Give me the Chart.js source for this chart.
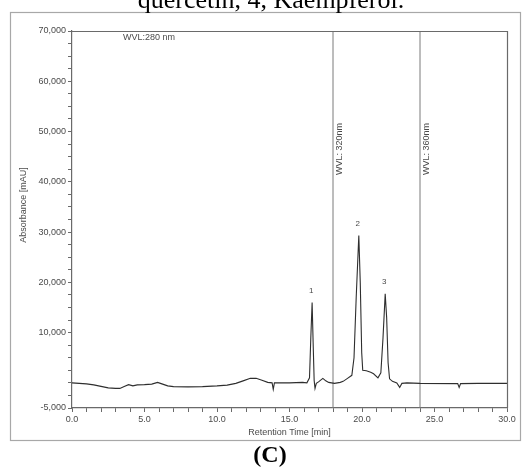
<!DOCTYPE html>
<html>
<head>
<meta charset="utf-8">
<script src="https://cdn.jsdelivr.net/npm/chart.js@4.4.1/dist/chart.umd.min.js"></script>
<style>
  html, body { margin: 0; padding: 0; background: #fff; }
  #wrap { width: 526px; height: 470px; position: relative; }
</style>
</head>
<body>
<div id="wrap"><canvas id="chart"></canvas></div>
<script>
'use strict';

/* ── Chromatogram trace (min → mAU) ─────────────────────────────── */
const retentionTime = [
  0.0, 0.5, 1.0, 1.5, 2.0, 2.5, 3.0, 3.3, 3.6, 3.9, 4.2, 4.5, 5.0, 5.5, 5.9,
  6.2, 6.6, 7.0, 8.0, 9.0, 10.0, 10.7, 11.3, 11.8, 12.3, 12.7, 13.1, 13.5,
  13.8, 13.88, 13.96, 14.5, 15.0, 15.9, 16.2, 16.38, 16.47, 16.56, 16.63,
  16.7, 16.76, 16.85, 17.0, 17.3, 17.5, 17.7, 18.1, 18.5, 18.7, 19.0, 19.3,
  19.45, 19.6, 19.78, 19.88, 19.98, 20.05, 20.3, 20.6, 20.8, 21.1, 21.3,
  21.45, 21.6, 21.7, 21.8, 21.9, 22.1, 22.4, 22.6, 22.75, 23.1, 24.0, 26.6,
  26.7, 26.8, 28.0, 30.0
];
const absorbance = [
  0, -100, -200, -400, -700, -1000, -1100, -1100, -700, -350, -600, -400,
  -350, -250, 100, -200, -600, -750, -800, -750, -600, -450, -100, 400, 900,
  900, 500, 100, 0, -1300, 0, 0, 0, 100, 0, 1000, 9000, 16000, 8000, 500,
  -1100, -100, 200, 900, 400, 100, -100, 100, 300, 900, 1500, 5000, 17000,
  29300, 20000, 6000, 2500, 2400, 2100, 1800, 1000, 2000, 9000, 17700, 13000,
  4000, 800, 300, 0, -900, -100, 0, -100, -150, -900, -150, -100, -100
];

/* ── Detector wavelength switches ───────────────────────────────── */
const wvlSwitchTimes  = [18.0, 24.0];
const wvlSwitchLabels = ['WVL: 320nm', 'WVL: 360nm'];

/* ── Peak annotations ───────────────────────────────────────────── */
const peakTimes   = [16.56, 19.78, 21.6];
const peakHeights = [16000, 29300, 17700];
const peakLabels  = ['1', '2', '3'];

/* ── Axis ticks ─────────────────────────────────────────────────── */
const xTicks = [0, 1, 2, 3, 4, 5, 6, 7, 8, 9, 10, 11, 12, 13, 14, 15, 16, 17,
  18, 19, 20, 21, 22, 23, 24, 25, 26, 27, 28, 29, 30];
const yTicks = [-5000, -2500, 0, 2500, 5000, 7500, 10000, 12500, 15000, 17500,
  20000, 22500, 25000, 27500, 30000, 32500, 35000, 37500, 40000, 42500, 45000,
  47500, 50000, 52500, 55000, 57500, 60000, 62500, 65000, 67500, 70000];

const C = {
  trace: '#2e2e2e',
  axis:  '#6a6a6a',
  frame: '#a8a8a8',
  text:  '#4a4a4a',
  sans:  '"Liberation Sans", Arial, sans-serif',
  serif: '"Liberation Serif", "Times New Roman", serif',
};

function withCommas(v) {
  return String(v).replace(/\B(?=(\d{3})+(?!\d))/g, ',');
}

/* ── Frame, box and text overlays ───────────────────────────────── */
const overlay = {
  id: 'overlay',
  beforeDraw(chart) {
    const { ctx } = chart;
    ctx.save();
    ctx.fillStyle = '#fff';
    ctx.fillRect(0, 0, chart.width, chart.height);
    ctx.strokeStyle = C.frame;
    ctx.lineWidth = 1.2;
    ctx.strokeRect(10.5, 12.5, 510, 428);
    ctx.restore();
  },
  afterDraw(chart) {
    const { ctx, chartArea: a, scales: { x, y } } = chart;
    ctx.save();

    // top and right sides of the plot box
    ctx.strokeStyle = C.axis;
    ctx.lineWidth = 1.2;
    ctx.beginPath();
    ctx.moveTo(a.left, a.top + 0.5);
    ctx.lineTo(a.right + 0.5, a.top + 0.5);
    ctx.lineTo(a.right + 0.5, a.bottom);
    ctx.stroke();

    ctx.fillStyle = C.text;
    ctx.font = `9px ${C.sans}`;
    ctx.textBaseline = 'middle';
    ctx.textAlign = 'left';
    ctx.fillText('WVL:280 nm', 123, 38);

    // rotated wavelength labels beside the switch lines
    wvlSwitchTimes.forEach((t, i) => {
      ctx.save();
      ctx.translate(x.getPixelForValue(t) + 7, 149);
      ctx.rotate(-Math.PI / 2);
      ctx.textAlign = 'center';
      ctx.fillText(wvlSwitchLabels[i], 0, 0);
      ctx.restore();
    });

    // peak numbers
    ctx.font = `8px ${C.sans}`;
    ctx.textAlign = 'center';
    peakTimes.forEach((t, i) => {
      ctx.fillText(peakLabels[i], x.getPixelForValue(t) - 1, y.getPixelForValue(peakHeights[i]) - 12);
    });

    // y axis title
    ctx.font = `9px ${C.sans}`;
    ctx.save();
    ctx.translate(24, 205);
    ctx.rotate(-Math.PI / 2);
    ctx.fillText('Absorbance [mAU]', 0, 0);
    ctx.restore();

    // figure text cut at the top and panel caption
    ctx.fillStyle = '#000';
    ctx.textBaseline = 'alphabetic';
    ctx.font = `26px ${C.serif}`;
    ctx.fillText('quercetin, 4, Kaempferol.', 271, 8);
    ctx.font = `bold 24px ${C.serif}`;
    ctx.fillText('(C)', 270, 462);

    ctx.restore();
  },
};

const tickFont = { family: C.sans, size: 9 };

new Chart(document.getElementById('chart'), {
  type: 'line',
  data: {
    datasets: [
      {
        label: 'trace',
        data: retentionTime.map((t, i) => ({ x: t, y: absorbance[i] })),
        borderColor: C.trace,
        borderWidth: 1.1,
        pointRadius: 0,
        tension: 0,
      },
      ...wvlSwitchTimes.map(t => ({
        label: 'switch',
        data: [{ x: t, y: -5000 }, { x: t, y: 70000 }],
        borderColor: '#7a7a7a',
        borderWidth: 1,
        pointRadius: 0,
      })),
    ],
  },
  options: {
    responsive: true,
    maintainAspectRatio: false,
    animation: false,
    layout: { padding: { left: 0, top: 31, right: 19, bottom: 30 } },
    plugins: {
      legend: { display: false },
      tooltip: { enabled: false },
    },
    scales: {
      x: {
        type: 'linear',
        min: 0,
        max: 30,
        afterBuildTicks: ax => { ax.ticks = xTicks.map(v => ({ value: v })); },
        afterFit: ax => { ax.height = 32; },
        grid: { drawOnChartArea: false, tickLength: 4, color: C.axis },
        border: { color: C.axis, width: 1.2 },
        ticks: {
          autoSkip: false,
          maxRotation: 0,
          padding: 2,
          color: C.text,
          font: tickFont,
          callback: v => (v % 5 === 0 ? v.toFixed(1) : ''),
        },
        title: {
          display: true,
          text: 'Retention Time [min]',
          color: C.text,
          font: tickFont,
          padding: { top: 0, bottom: 2 },
        },
      },
      y: {
        min: -5000,
        max: 70000,
        afterBuildTicks: ax => { ax.ticks = yTicks.map(v => ({ value: v })); },
        afterFit: ax => { ax.width = 72; },
        grid: { drawOnChartArea: false, tickLength: 4, color: C.axis },
        border: { color: C.axis, width: 1.2 },
        ticks: {
          autoSkip: false,
          padding: 2,
          color: C.text,
          font: tickFont,
          callback: v => ((v % 10000 === 0 && v !== 0) || v === -5000 ? withCommas(v) : ''),
        },
      },
    },
  },
  plugins: [overlay],
});
</script>
</body>
</html>
